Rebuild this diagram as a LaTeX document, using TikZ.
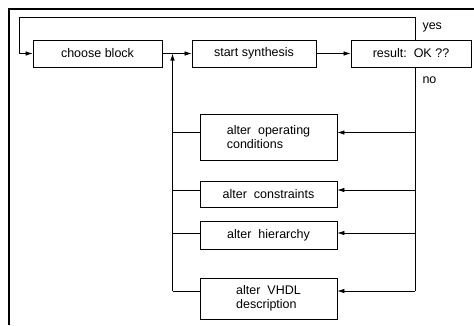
\documentclass[tikz,border=0pt]{standalone}
\usepackage{fontspec}
\setmainfont{Liberation Sans}
\usetikzlibrary{arrows.meta, positioning}

\begin{document}
\begin{tikzpicture}[x=1pt, y=-1pt, font=\fontsize{12.5}{13.5}\selectfont, >={Latex[length=7pt, width=4.5pt]},
    box/.style={draw, line width=0.8pt, inner sep=2pt, align=left},
    flow/.style={line width=0.7pt}]
  \useasboundingbox (0,0) rectangle (474,325);
  \draw[line width=1.3pt] (9,325) -- (9,9) -- (474,9);
  % main row
  \node[box, minimum width=129pt, minimum height=27pt] (choose) at (97.5,53.5)  {choose block};
  \node[box, minimum width=124pt, minimum height=27pt] (synth)  at (254,53.5)   {start synthesis};
  \node[box, minimum width=120pt, minimum height=27pt] (result) at (411,53.5)   {result:\ \ OK ??};
  % changes
  \node[box, minimum width=137pt, minimum height=46pt] (opcond) at (268.5,137)  {alter\ \ operating\\conditions};
  \node[box, minimum width=137pt, minimum height=26pt] (constr) at (268.5,194)  {alter\ \ constraints};
  \node[box, minimum width=137pt, minimum height=28pt] (hier)   at (268.5,235)  {alter\ \ hierarchy};
  \node[box, minimum width=137pt, minimum height=41pt] (vhdl)   at (268.5,298.5){alter\ \ VHDL\\description};
  \coordinate (top)  at (415,17);
  \coordinate (loop) at (19,17);
  \coordinate (join) at (172.5,53.5);
  \coordinate (back) at (172.5,291);
  \coordinate (down) at (415,291);
  \coordinate (r1) at (415,132.5);
  \coordinate (r2) at (415,190);
  \coordinate (r3) at (415,233);
  \node[anchor=west] (yes) at (419,27) {yes};
  \node[anchor=west] (no)  at (419,80) {no};
  % connectors
  \draw[flow, ->] (result.north -| top) -- (top) -- (loop) |- (choose.west);
  \draw[flow, ->] (choose.east) -- (synth.west);
  \draw[flow, ->] (synth.east) -- (result.west);
  \draw[flow, ->] (back) -- (join);
  \draw[flow] (result.south -| down) -- (down);
  \draw[flow, ->] (r1) -- (r1 -| opcond.east);
  \draw[flow, ->] (r2) -- (r2 -| constr.east);
  \draw[flow, ->] (r3) -- (r3 -| hier.east);
  \draw[flow, ->] (down) -- (down -| vhdl.east);
  \draw[flow] (opcond.west |- r1) -- (r1 -| back);
  \draw[flow] (constr.west |- r2) -- (r2 -| back);
  \draw[flow] (hier.west |- r3) -- (r3 -| back);
  \draw[flow] (vhdl.west |- down) -- (back);
\end{tikzpicture}
\end{document}
